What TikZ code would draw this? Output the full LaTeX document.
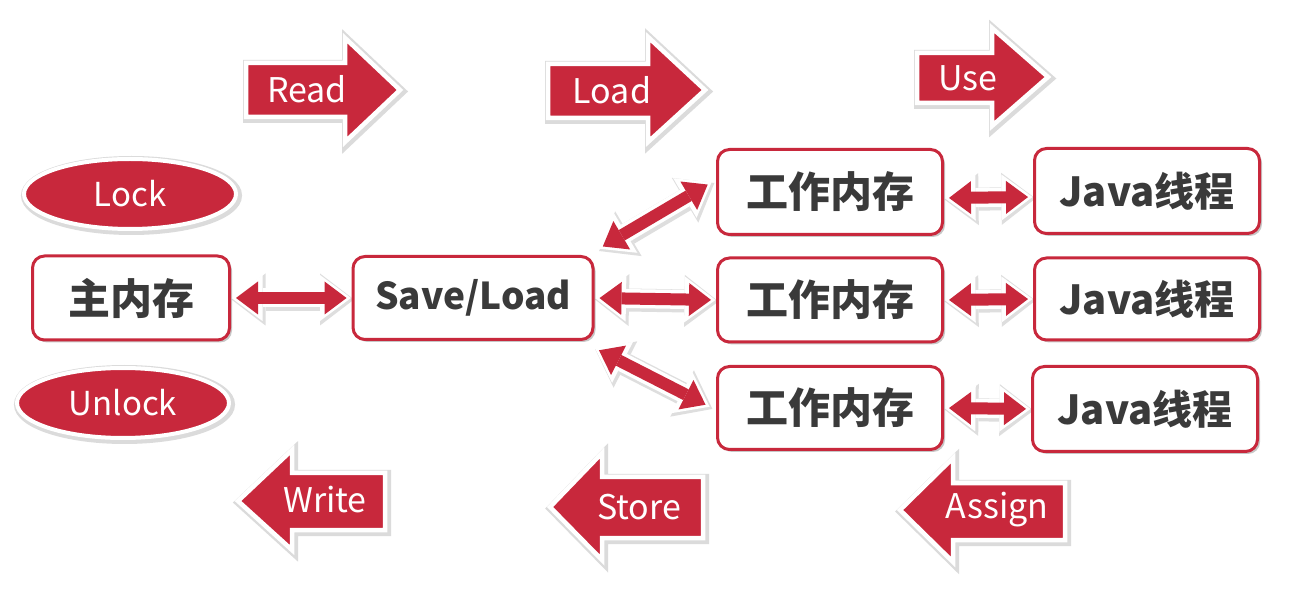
\documentclass[tikz,border=0pt]{standalone}
\usepackage{fontspec}
\newfontfamily\cjk{Noto Sans CJK SC}
\usetikzlibrary{shapes.geometric,arrows.meta,shadows}
\definecolor{jred}{RGB}{200,40,60}
\definecolor{jtext}{RGB}{58,58,58}
\pgfdeclarelayer{bg}
\pgfsetlayers{bg,main}
\begin{document}
\begin{tikzpicture}[x=1pt,y=-1pt,
  shad/.style={drop shadow={shadow xshift=2.5pt,shadow yshift=-2.5pt,opacity=0.22,fill=black}},
  halo/.style={preaction={draw=black!14,line width=9pt,line join=miter,fill=black!14,
    transform canvas={xshift=1.5pt,yshift=-1.5pt}}},
  box/.style={draw=jred,line width=3pt,fill=white,rounded corners=12pt,text=jtext,
    font=\cjk\bfseries\fontsize{42pt}{46pt}\selectfont,inner sep=0pt,shad},
  oval/.style={ellipse,draw=white,line width=4pt,fill=jred,text=white,
    minimum width=212pt,minimum height=70pt,inner sep=0pt,
    font=\cjk\fontsize{33pt}{38pt}\selectfont,halo},
  barrow/.style={draw=white,line width=4.5pt,fill=jred,line join=miter,halo},
  alabel/.style={text=white,inner sep=0pt,font=\cjk\fontsize{34pt}{38pt}\selectfont},
  dbls/.style={draw=black!13,line width=23pt,
    {Triangle[length=34pt,width=52pt,line width=0pt]}-{Triangle[length=34pt,width=52pt,line width=0pt]},
    shorten <=-1pt,shorten >=-1pt,transform canvas={xshift=1.5pt,yshift=-1.5pt}},
  dblw/.style={draw=white,line width=19pt,
    {Triangle[length=31pt,width=46pt,line width=0pt]}-{Triangle[length=31pt,width=46pt,line width=0pt]},
    shorten <=0.5pt,shorten >=0.5pt},
  dblr/.style={draw=jred,line width=12pt,
    {Triangle[length=22pt,width=33pt,line width=0pt]}-{Triangle[length=22pt,width=33pt,line width=0pt]},
    shorten <=5pt,shorten >=5pt}
]
\useasboundingbox (0,0) rectangle (1291,609);
\begin{pgfonlayer}{bg}
\fill[white] (0,0) rectangle (1291,609);
\end{pgfonlayer}

% block arrows
\draw[barrow] (246,63) -- (345,63) -- (345,38) -- (400,90) -- (345,142) -- (345,117) -- (246,117) -- cycle;
\node[alabel] (read) at (307,89) {Read};
\draw[barrow] (548,64) -- (648,64) -- (648,37) -- (705,90) -- (648,142) -- (648,118) -- (548,118) -- cycle;
\node[alabel] (load) at (612,90) {Load};
\draw[barrow] (917,53) -- (992,53) -- (992,28) -- (1048,77) -- (992,126) -- (992,103) -- (917,103) -- cycle;
\node[alabel] (use) at (968,78) {Use};
\draw[barrow] (385,473) -- (292,473) -- (292,450) -- (238,501) -- (292,550) -- (292,530) -- (385,530) -- cycle;
\node[alabel] (write) at (325,500) {Write};
\draw[barrow] (703,477) -- (602,477) -- (602,453) -- (550,507) -- (602,560) -- (602,538) -- (703,538) -- cycle;
\node[alabel] (store) at (639,507) {Store};
\draw[barrow] (1065,483) -- (953,483) -- (953,458) -- (900,510) -- (953,562) -- (953,540) -- (1065,540) -- cycle;
\node[alabel] (assign) at (997,510) {Assign};

% ovals
\node[oval] (lock) at (130,194) {Lock};
\node[oval] (unlock) at (123,403) {Unlock};

% boxes
\node[box,minimum width=197pt,minimum height=84pt] (main) at (131,298) {主内存};
\node[box,minimum width=240pt,minimum height=83pt,font=\cjk\bfseries\fontsize{37pt}{42pt}\selectfont] (sl) at (473,298) {Save/Load};
\node[box,minimum width=225pt,minimum height=85pt] (w1) at (830,192) {工作内存};
\node[box,minimum width=225pt,minimum height=84pt] (w2) at (830,300) {工作内存};
\node[box,minimum width=225pt,minimum height=83pt] (w3) at (830,408) {工作内存};
\node[box,minimum width=225pt,minimum height=85pt,font=\cjk\bfseries\fontsize{40pt}{44pt}\selectfont] (j1) at (1147,191) {Java线程};
\node[box,minimum width=225pt,minimum height=82pt,font=\cjk\bfseries\fontsize{40pt}{44pt}\selectfont] (j2) at (1147,299) {Java线程};
\node[box,minimum width=225pt,minimum height=85pt,font=\cjk\bfseries\fontsize{40pt}{44pt}\selectfont] (j3) at (1145,409) {Java线程};

% connector end points
\coordinate (a1) at ([shift={(4,-6)}]sl.north east);
\coordinate (b1) at ([shift={(-4,-10)}]w1.west);
\coordinate (a2) at ([shift={(0,7)}]sl.south east);
\coordinate (b2) at ([shift={(-6,-1)}]w3.west);
\coordinate (c1) at ([shift={(0,6)}]w1.east);
\coordinate (d1) at ([shift={(0,6)}]j1.west);

% double arrows
\begin{pgfonlayer}{bg}
\foreach \p/\q in {main.east/sl.west, sl.east/w2.west, a1/b1, a2/b2, c1/d1, w2.east/j2.west, w3.east/j3.west}{
  \draw[dbls] (\p) -- (\q);
}
\foreach \p/\q in {main.east/sl.west, sl.east/w2.west, a1/b1, a2/b2, c1/d1, w2.east/j2.west, w3.east/j3.west}{
  \draw[dblw] (\p) -- (\q);
  \draw[dblr] (\p) -- (\q);
}
\end{pgfonlayer}
\end{tikzpicture}
\end{document}
